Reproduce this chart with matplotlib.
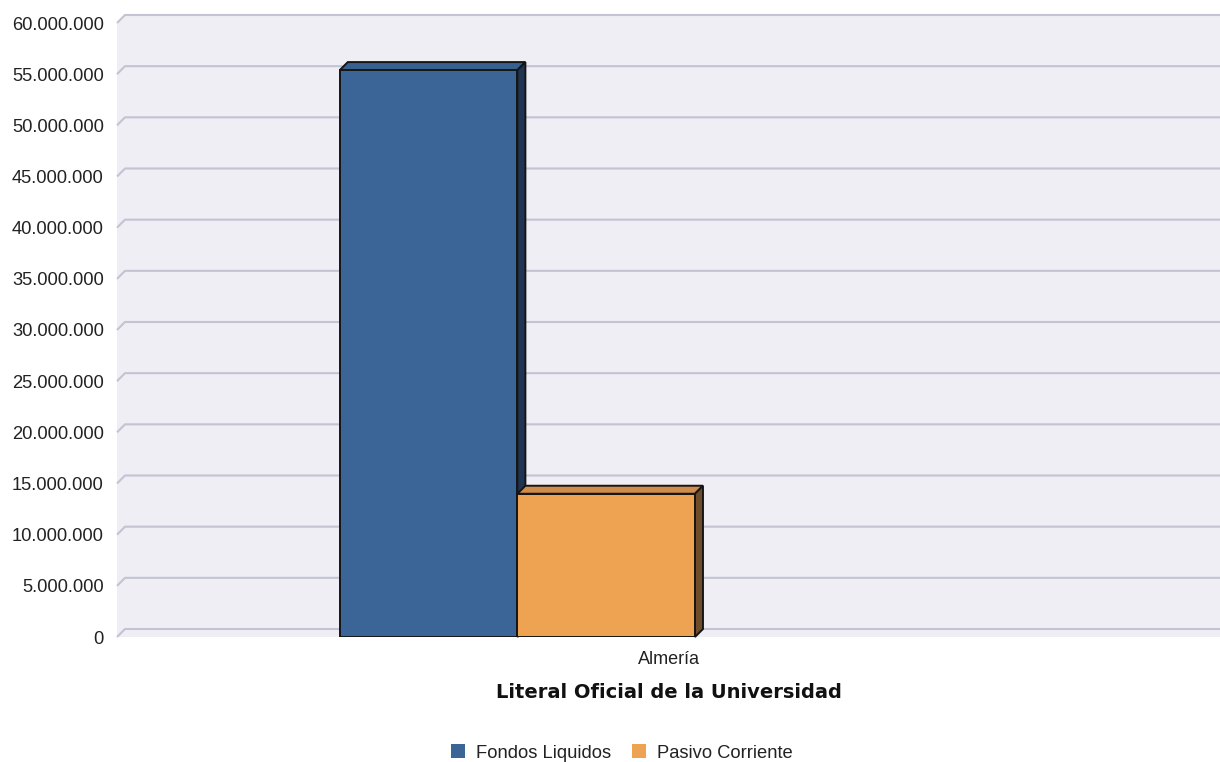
import matplotlib
matplotlib.use("Agg")
import matplotlib.pyplot as plt
from matplotlib.patches import Polygon, Patch
from matplotlib.ticker import FuncFormatter, MultipleLocator

# Data
categories = ["Almería"]
series_names = ["Fondos Liquidos", "Pasivo Corriente"]
fondos_liquidos = [55400000]
pasivo_corriente = [14000000]
series_values = [fondos_liquidos, pasivo_corriente]

# Style
front_colors = ["#3B6597", "#EEA352"]
top_colors = ["#36608F", "#CF8C4A"]
side_colors = ["#1F3553", "#6F4D2B"]
wall_color = "#EEEEF4"
grid_color = "#C3C3D3"
edge_color = "#151515"

plt.rcParams["font.family"] = ["Liberation Sans", "DejaVu Sans"]

W, H, DPI = 1220, 762, 100
fig = plt.figure(figsize=(W / DPI, H / DPI), dpi=DPI)
fig.patch.set_facecolor("white")

# front plot area in pixels
px_left, px_right, px_top, px_bottom = 117, 1220, 23, 637
ax = fig.add_axes([px_left / W, 1 - px_bottom / H, (px_right - px_left) / W, (px_bottom - px_top) / H])
ax.set_facecolor("none")
for s in ax.spines.values():
    s.set_visible(False)

ymax = 60000000
ax.set_ylim(0, ymax)
ax.set_xlim(-0.5, 0.5)

# 3D depth in pixels -> data
depth_px = 8
dx = depth_px / (px_right - px_left) * 1.0
dy = depth_px / (px_bottom - px_top) * ymax

x0, x1 = ax.get_xlim()

# wall / floor
wall = Polygon([(x0, 0), (x0, ymax), (x0 + dx, ymax + dy), (x1, ymax + dy), (x1, 0)],
               closed=True, facecolor=wall_color, edgecolor="none", clip_on=False, zorder=0)
ax.add_patch(wall)

# gridlines on the back wall with slanted stub
for v in range(0, ymax + 1, 5000000):
    ax.plot([x0, x0 + dx, x1], [v, v + dy, v + dy], color=grid_color, lw=1.5,
            clip_on=False, zorder=1, solid_capstyle="butt")

# bars
bar_w = 0.161
group_offset = -0.137
n = len(series_values)
for i, vals in enumerate(series_values):
    for c, v in enumerate(vals):
        left = c + group_offset + (i - n / 2) * bar_w
        ax.bar(left, v, width=bar_w, align="edge", color=front_colors[i],
               edgecolor=edge_color, lw=1.4, zorder=3 + i * 2)
        right = left + bar_w
        top = Polygon([(left, v), (left + dx, v + dy), (right + dx, v + dy), (right, v)],
                      closed=True, facecolor=top_colors[i], edgecolor=edge_color, lw=1.4,
                      clip_on=False, zorder=2 + i * 2)
        side = Polygon([(right, 0), (right + dx, dy), (right + dx, v + dy), (right, v)],
                       closed=True, facecolor=side_colors[i], edgecolor=edge_color, lw=1.4,
                       clip_on=False, zorder=2 + i * 2)
        ax.add_patch(top)
        ax.add_patch(side)

ax.yaxis.set_major_locator(MultipleLocator(5000000))
ax.yaxis.set_major_formatter(FuncFormatter(lambda v, p: f"{v:,.0f}".replace(",", ".")))
ax.tick_params(axis="y", length=0, pad=9.5, labelsize=13.2, labelcolor="#222222")
ax.set_xticks(range(len(categories)))
ax.set_xticklabels(categories)
ax.tick_params(axis="x", length=0, pad=10, labelsize=13, labelcolor="#222222")
ax.set_xlabel("Literal Oficial de la Universidad", fontsize=14, fontweight="bold",
              family="DejaVu Sans", labelpad=11, color="#111111")

handles = [Patch(facecolor=front_colors[i], edgecolor="none") for i in range(n)]
fig.legend(handles, series_names, loc="center", bbox_to_anchor=(622 / W, 1 - 753 / H),
           ncol=2, frameon=False, fontsize=13.2, handlelength=0.75, handleheight=0.75,
           handletextpad=0.65, columnspacing=1.1, labelcolor="#222222")

fig.savefig("out.png", dpi=DPI)
